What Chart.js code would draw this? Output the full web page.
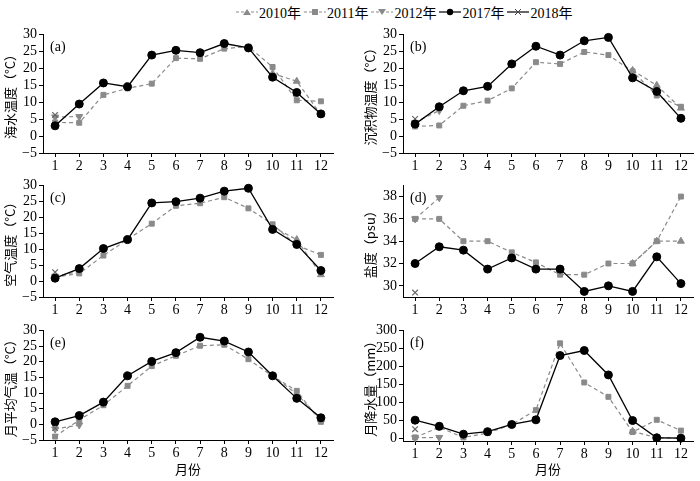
<!DOCTYPE html>
<html>
<head>
<meta charset="utf-8">
<script src="https://cdn.jsdelivr.net/npm/chart.js@4.4.1/dist/chart.umd.min.js"></script>
<style>
  body { margin: 0; background: #fff; width: 700px; height: 481px; position: relative; overflow: hidden; }
  canvas { position: absolute; }
  #legend { position: absolute; top: 2px; left: 236px; display: flex; align-items: center;
            font-family: "Liberation Serif", "Noto Sans CJK SC", serif; font-size: 14px; color: #000; }
  #legend span.item { display: flex; align-items: center; margin-right: 3px; }
  #legend svg { margin-right: 1px; }
</style>
</head>
<body>
<div id="legend"></div>
<canvas id="ca" width="340" height="155" style="left:0;top:20px"></canvas>
<canvas id="cb" width="350" height="155" style="left:350px;top:20px"></canvas>
<canvas id="cc" width="340" height="145" style="left:0;top:175px"></canvas>
<canvas id="cd" width="350" height="145" style="left:350px;top:175px"></canvas>
<canvas id="ce" width="340" height="161" style="left:0;top:320px"></canvas>
<canvas id="cf" width="350" height="161" style="left:350px;top:320px"></canvas>
<script>
const months = ['1','2','3','4','5','6','7','8','9','10','11','12'];
const years = ['2010年','2011年','2012年','2017年','2018年'];

// (a) 海水温度
const sea2010 = [null,null,null,null,null,null,null,null,null,18.4,16.1,6.3];
const sea2011 = [4.0,3.9,12.1,14.0,15.4,22.9,22.7,25.7,26.3,20.3,10.5,10.2];
const sea2012 = [5.6,5.7];
const sea2017 = [3.0,9.4,15.6,14.5,23.8,25.2,24.5,27.2,25.9,17.3,12.8,6.5];
const sea2018 = [6.2];

// (b) 沉积物温度
const sed2010 = [null,null,null,null,null,null,null,null,null,19.3,14.9,8.2];
const sed2011 = [2.8,3.1,8.9,10.4,14.0,21.7,21.2,24.7,23.8,19.0,11.9,8.6];
const sed2012 = [4.0,7.5];
const sed2017 = [3.5,8.6,13.3,14.6,21.2,26.4,23.8,28.0,29.0,17.1,13.1,5.2];
const sed2018 = [5.0];

// (c) 空气温度
const air2010 = [null,null,null,null,null,null,null,null,null,17.0,13.0,2.0];
const air2011 = [1.2,2.4,8.0,13.1,18.0,23.6,24.4,26.3,22.8,17.8,11.2,8.2];
const air2012 = [1.5,3.0];
const air2017 = [0.9,3.9,10.2,13.0,24.5,24.9,26.0,28.2,29.1,16.2,11.5,3.3];
const air2018 = [2.8];

// (d) 盐度
const sal2010 = [null,null,null,null,null,null,null,null,null,32.0,34.0,34.0];
const sal2011 = [36.0,36.0,34.0,34.0,33.0,32.1,31.0,31.0,32.0,32.0,34.0,38.0];
const sal2012 = [36.0,37.9];
const sal2017 = [32.0,33.5,33.2,31.5,32.5,31.5,31.5,29.5,30.0,29.5,32.6,30.2];
const sal2018 = [29.4];

// (e) 月平均气温
const mat2010 = [null,null,null,null,null,null,null,null,null,15.5,9.7,1.5];
const mat2011 = [-3.9,1.4,6.1,12.3,18.6,21.9,25.1,25.4,20.8,15.4,10.7,0.8];
const mat2012 = [-1.5,-0.2];
const mat2017 = [0.8,2.8,7.1,15.5,20.1,22.9,27.8,26.6,23.1,15.5,8.3,2.1];
const mat2018 = [-1.2];

// (f) 月降水量
const rain2010 = [null,null,null,null,null,null,null,null,null,19,1,0];
const rain2011 = [2,30,2,14,38,78,264,155,115,17,51,21];
const rain2012 = [1,2];
const rain2017 = [50,33,11,18,38,51,230,244,176,49,1,0];
const rain2018 = [25];

const tempTicks = [-5,0,5,10,15,20,25,30];
const salTicks = [30,32,34,36,38];
const rainTicks = [0,50,100,150,200,250,300];

const grey = '#8a8a8a';
const serif = '"Liberation Serif", serif';
const cjk = '"Noto Sans CJK SC", sans-serif';

const styles = [
  { pointStyle: 'triangle', rotation: 0,   color: grey, line: grey, dash: [4,3], r: 4, order: 3 },
  { pointStyle: 'rect',     rotation: 0,   color: grey, line: grey, dash: [4,3], r: 3.5, order: 2 },
  { pointStyle: 'triangle', rotation: 180, color: grey, line: grey, dash: [4,3], r: 4, order: 4 },
  { pointStyle: 'circle',   rotation: 0,   color: '#000', line: '#000', dash: [], r: 4, order: 0 },
  { pointStyle: 'crossRot', rotation: 0,   color: '#666', line: '#000', dash: [], r: 4, order: 1 }
];

const panelLabel = {
  id: 'panelLabel',
  afterDraw(chart, args, opts) {
    const { ctx, chartArea } = chart;
    ctx.save();
    ctx.font = '14px ' + serif;
    ctx.fillStyle = '#000';
    ctx.textBaseline = 'middle';
    ctx.fillText(opts.text, chartArea.left + 7, chartArea.top + 13);
    ctx.restore();
  }
};

function makeChart(id, letter, yTitle, seriesList, yMin, yMax, ticks, col, xh, padTop, showX) {
  const datasets = seriesList.map((d, i) => {
    const s = styles[i];
    return {
      label: years[i],
      data: d,
      borderColor: s.line,
      backgroundColor: s.color,
      pointBorderColor: s.color,
      pointBackgroundColor: s.color,
      pointStyle: s.pointStyle,
      pointRotation: s.rotation,
      pointRadius: s.r,
      pointBorderWidth: i === 4 ? 1.2 : 1,
      borderWidth: i === 3 ? 1.3 : 1.2,
      borderDash: s.dash,
      tension: 0,
      spanGaps: false,
      clip: false,
      order: s.order
    };
  });
  return new Chart(document.getElementById(id), {
    type: 'line',
    data: { labels: months, datasets: datasets },
    options: {
      responsive: false,
      animation: false,
      layout: { padding: { top: padTop, right: 7, left: 0, bottom: 0 } },
      plugins: { legend: { display: false }, tooltip: { enabled: false }, panelLabel: { text: letter } },
      scales: {
        x: {
          offset: true,
          grid: { drawOnChartArea: false, drawTicks: true, tickLength: 4, color: '#000' },
          border: { display: true, color: '#000', width: 1 },
          ticks: { color: '#000', font: { family: serif, size: 14 }, padding: 1, maxRotation: 0, autoSkip: false },
          title: { display: showX, text: '月份', color: '#000', font: { family: cjk, size: 13 }, padding: { top: 0, bottom: 4 } },
          afterFit: s => { s.height = xh; }
        },
        y: {
          min: yMin,
          max: yMax,
          afterBuildTicks: s => { s.ticks = ticks.map(v => ({ value: v })); },
          grid: { drawOnChartArea: false, drawTicks: true, tickLength: 4, color: '#000' },
          border: { display: true, color: '#000', width: 1 },
          ticks: { color: '#000', font: { family: serif, size: 14 }, padding: 2, autoSkip: false,
                   callback: v => String(v).replace('-', '\u2212') },
          title: { display: true, text: yTitle, color: '#000', font: { family: cjk, size: 13 },
                   padding: { top: col === 0 ? 2 : 12, bottom: 0 } },
          afterFit: s => { s.width = col === 0 ? 43 : 53; }
        }
      }
    },
    plugins: [panelLabel]
  });
}

function drawAll() {
  makeChart('ca', '(a)', '海水温度（°C）', [sea2010, sea2011, sea2012, sea2017, sea2018], -5, 30, tempTicks, 0, 22, 14, false);
  makeChart('cb', '(b)', '沉积物温度（°C）', [sed2010, sed2011, sed2012, sed2017, sed2018], -5, 30, tempTicks, 1, 22, 14, false);
  makeChart('cc', '(c)', '空气温度（°C）', [air2010, air2011, air2012, air2017, air2018], -5, 30, tempTicks, 0, 23, 2, false);
  makeChart('cd', '(d)', '盐度（psu）', [sal2010, sal2011, sal2012, sal2017, sal2018], 29, 39, salTicks, 1, 23, 2, false);
  makeChart('ce', '(e)', '月平均气温（°C）', [mat2010, mat2011, mat2012, mat2017, mat2018], -5, 30, tempTicks, 0, 41, 2, true);
  makeChart('cf', '(f)', '月降水量（mm）', [rain2010, rain2011, rain2012, rain2017, rain2018], -8, 300, rainTicks, 1, 40, 2, true);
}

// legend
function markerSvg(i) {
  const s = styles[i];
  const dash = s.dash.length ? ' stroke-dasharray="3,2"' : '';
  let m = '';
  if (i === 0) m = '<polygon points="11,3 15,9 7,9" fill="' + s.color + '"/>';
  if (i === 1) m = '<rect x="8" y="3" width="6" height="6" fill="' + s.color + '"/>';
  if (i === 2) m = '<polygon points="7,3 15,3 11,9" fill="' + s.color + '"/>';
  if (i === 3) m = '<circle cx="11" cy="6" r="3.2" fill="#000"/>';
  if (i === 4) m = '<path d="M8,3 L14,9 M14,3 L8,9" stroke="#444" stroke-width="1"/>';
  return '<svg width="22" height="12"><line x1="0" y1="6" x2="22" y2="6" stroke="' + s.line + '" stroke-width="1.2"' + dash + '/>' + m + '</svg>';
}
document.getElementById('legend').innerHTML = years.map((y, i) =>
  '<span class="item">' + markerSvg(i) + '<span>' + y + '</span></span>').join('');

Promise.all([
  document.fonts.load('14px "Liberation Serif"'),
  document.fonts.load('13px "Noto Sans CJK SC"', '月份海水')
]).then(drawAll, drawAll);
</script>
</body>
</html>
